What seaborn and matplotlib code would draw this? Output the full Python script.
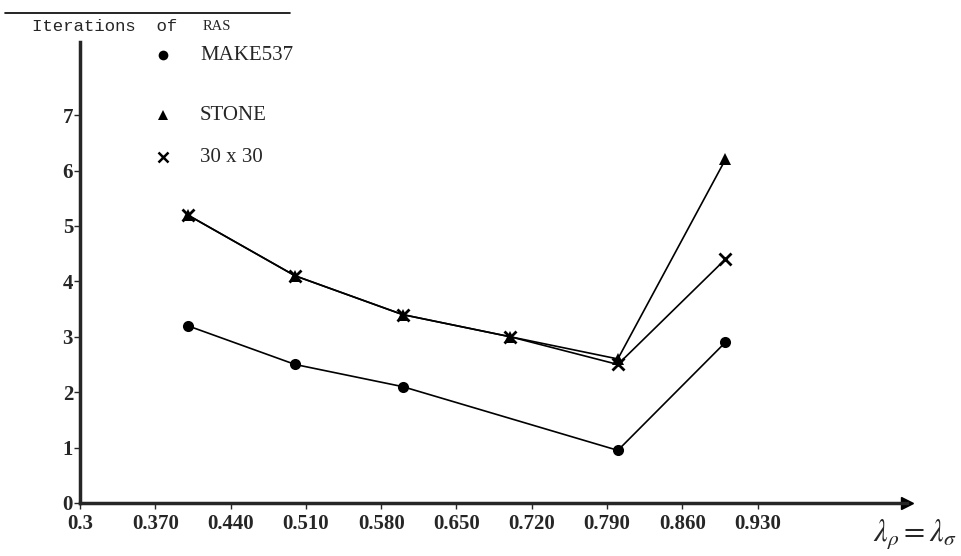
import matplotlib
matplotlib.use("Agg")
import matplotlib.pyplot as plt
from matplotlib.lines import Line2D
import pandas as pd
import seaborn as sns

# values
lam = [0.40, 0.50, 0.60, 0.70, 0.80, 0.90]
make537_x = [0.40, 0.50, 0.60, 0.80, 0.90]
make537 = [3.2, 2.5, 2.1, 0.95, 2.9]
stone = [5.2, 4.1, 3.4, 3.0, 2.6, 6.2]
grid30 = [5.2, 4.1, 3.4, 3.0, 2.5, 4.4]
xticks = [0.3, 0.370, 0.440, 0.510, 0.580, 0.650, 0.720, 0.790, 0.860, 0.930]
xtick_labels = ["0.3", "0.370", "0.440", "0.510", "0.580", "0.650", "0.720", "0.790", "0.860", "0.930"]
yticks = [0, 1, 2, 3, 4, 5, 6, 7]
series_names = ["MAKE537", "STONE", "30 x 30"]
series_markers = ["o", "^", "x"]

df = pd.concat([
    pd.DataFrame({"lam": make537_x, "iters": make537, "series": "MAKE537"}),
    pd.DataFrame({"lam": lam, "iters": stone, "series": "STONE"}),
    pd.DataFrame({"lam": lam, "iters": grid30, "series": "30 x 30"}),
])

sns.set_style("ticks")
plt.rcParams["font.family"] = ["Liberation Serif", "DejaVu Serif"]
plt.rcParams["mathtext.fontset"] = "stix"

W, H = 961, 556
fig = plt.figure(figsize=(W / 100, H / 100), dpi=100)
ax = fig.add_axes([80 / W, 53 / H, 827 / W, 461 / H])

for name, mk in zip(series_names, series_markers):
    sub = df[df["series"] == name]
    sns.lineplot(data=sub, x="lam", y="iters", ax=ax, color="black", linewidth=1.2,
                 marker=mk, markersize=8, markeredgewidth=2 if mk == "x" else 0,
                 markerfacecolor="black", markeredgecolor="black", legend=False)

ax.set_xlim(0.3, 1.0688)
ax.set_ylim(0, 8.32)
ax.set_xticks(xticks)
ax.set_xticklabels(xtick_labels)
ax.set_yticks(yticks)
ax.tick_params(axis="both", length=4, width=1, labelsize=15)
ax.tick_params(axis="x", pad=4)
ax.tick_params(axis="y", pad=1)
for lbl in ax.get_xticklabels() + ax.get_yticklabels():
    lbl.set_fontweight("bold")
ax.set_xlabel("")
ax.set_ylabel("")
sns.despine(ax=ax)
ax.spines["left"].set_linewidth(2.5)
ax.spines["bottom"].set_linewidth(2.5)
ax.plot(1, 0, ">k", markersize=9, transform=ax.get_yaxis_transform(), clip_on=False)

# legend entries stacked down the left
leg_y = [55, 115, 157]
for name, mk, yy in zip(series_names, series_markers, leg_y):
    fig.add_artist(Line2D([163 / W], [1 - yy / H], marker=mk, color="black", linestyle="none",
                          markersize=7, markeredgewidth=1.8 if mk == "x" else 0))
    fig.text(200 / W, 1 - yy / H, name, fontsize=15, va="center", ha="left")

# y axis title at the top
fig.add_artist(Line2D([5 / W, 290 / W], [1 - 13 / H, 1 - 13 / H], color="black", linewidth=1.2))
fig.text(32 / W, 1 - 31 / H, "Iterations  of", fontsize=12.5, va="baseline", ha="left",
         family="Liberation Mono")
fig.text(203 / W, 1 - 30 / H, "RAS", fontsize=10.5, va="baseline", ha="left")

fig.text(957 / W, 4 / H, r"$\lambda_\rho = \lambda_\sigma$", fontsize=22,
         va="bottom", ha="right")

fig.savefig("out.png", dpi=100)
